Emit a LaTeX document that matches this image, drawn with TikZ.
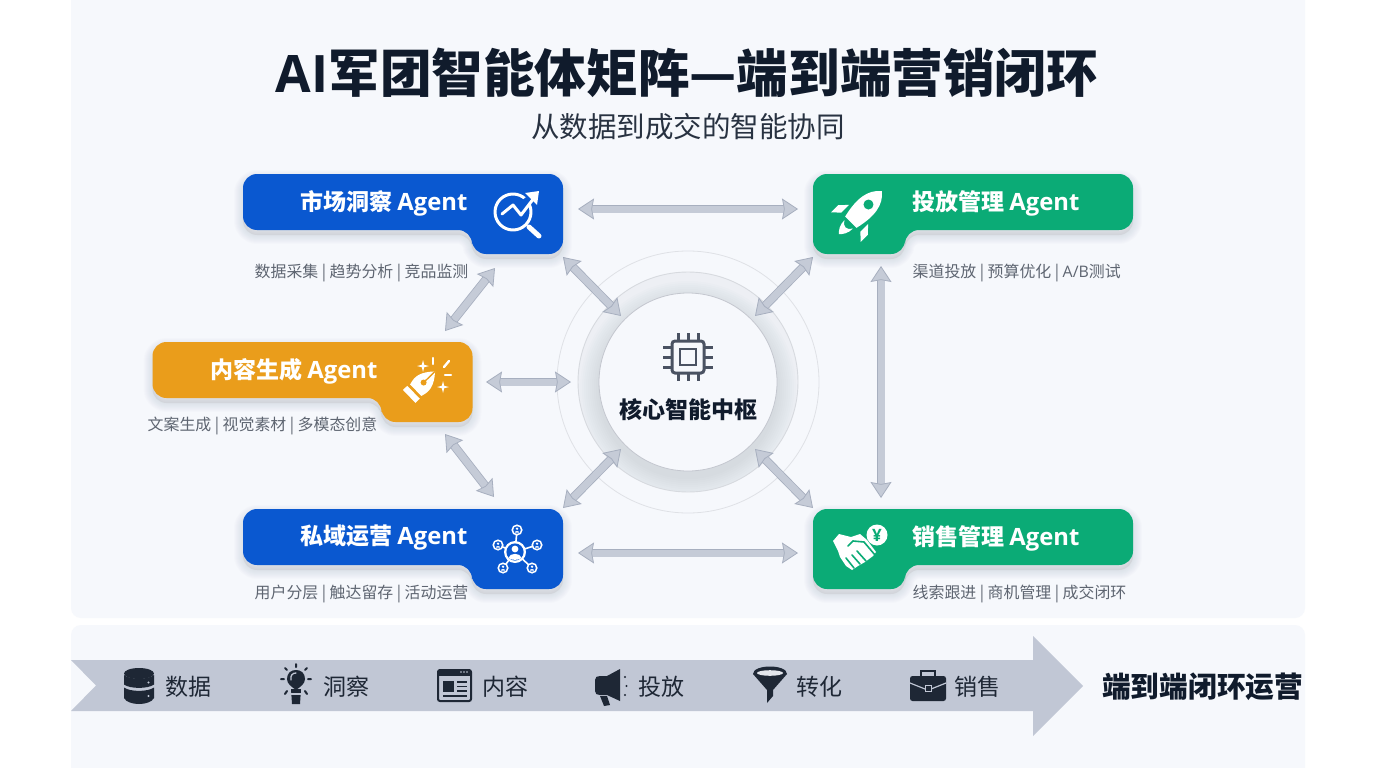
\documentclass[tikz,border=0pt]{standalone}
\usepackage{fontspec}
\setmainfont{Noto Sans CJK SC}
\newfontfamily\latinf{Open Sans}
\usetikzlibrary{arrows.meta,calc}
\definecolor{panel}{HTML}{F6F8FC}
\definecolor{ablue}{HTML}{0A58D0}
\definecolor{agreen}{HTML}{0BAB76}
\definecolor{aorange}{HTML}{EA9D1B}
\definecolor{inkd}{HTML}{101B2C}
\definecolor{graytxt}{HTML}{5E6571}
\definecolor{band}{HTML}{C1C7D5}
\definecolor{arrowf}{HTML}{C5CBD7}
\definecolor{arrowe}{HTML}{A7AFBF}
\definecolor{icond}{HTML}{1E2735}
\definecolor{chipc}{HTML}{4A5262}
\definecolor{shadowc}{HTML}{3A4660}
\newcommand{\fs}[1]{\fontsize{#1}{#1}\selectfont}
\newcommand{\shadowrep}[1]{\fill[shadowc,opacity=.09] #1; \foreach \i in {1,...,9}{\draw[shadowc,opacity=.012,line width=\i*2pt,line join=round] #1;}}
\newcommand{\cardR}[3]{\begin{scope}[shift={(#1)}]
 \begin{scope}[yshift=-5pt]\shadowrep{[rounded corners=14pt] (0,0)--(320,0)--(320,80)--(229,80)--(229,56)--(0,56)--cycle}\end{scope}
 \fill[#2,rounded corners=14pt] (0,0)--(320,0)--(320,80)--(229,80)--(229,56)--(0,56)--cycle;
 #3\end{scope}}
\newcommand{\cardL}[3]{\begin{scope}[shift={(#1)}]
 \begin{scope}[yshift=-5pt]\shadowrep{[rounded corners=14pt] (0,0)--(320,0)--(320,56)--(92,56)--(92,80)--(0,80)--cycle}\end{scope}
 \fill[#2,rounded corners=14pt] (0,0)--(320,0)--(320,56)--(92,56)--(92,80)--(0,80)--cycle;
 #3\end{scope}}
\newcommand{\agent}[1]{#1 {\latinf\bfseries\fs{23.8}Agent}}
\tikzset{
 x=1pt,y=-1pt,
 biarrow/.style={line width=.8pt,draw=arrowe,double=arrowf,double distance=7pt,
  {Stealth[length=16pt,width=21pt,inset=2pt,fill=arrowf,color=arrowe,line width=.8pt]}-{Stealth[length=16pt,width=21pt,inset=2pt,fill=arrowf,color=arrowe,line width=.8pt]}},
 cardtitle/.style={text=white,font=\fs{23}\bfseries,anchor=west,inner sep=0pt},
 desc/.style={text=graytxt,font=\fs{15.9},anchor=west,inner sep=0pt},
 steptext/.style={text=icond,font=\fs{23},anchor=west,inner sep=0pt},
 wl/.style={draw=white,line width=3pt,line cap=round,line join=round},
 dl/.style={draw=icond,line width=2pt,line cap=round,line join=round},
 chipl/.style={draw=chipc,line width=3pt},
}
\begin{document}
\begin{tikzpicture}
\useasboundingbox (0,0) rectangle (1376,768);
\fill[white] (0,0) rectangle (1376,768);
% panels
\fill[panel,rounded corners=10pt] (71,-20) rectangle (1305,618);
\fill[panel,rounded corners=10pt] (71,625) rectangle (1305,790);
% titles
\node[inner sep=0pt,text=inkd,font=\fs{51.6}\bfseries] (title) at (687,73) {{\latinf\bfseries AI}军团智能体矩阵—端到端营销闭环};
\node[inner sep=0pt,text=inkd!90,font=\fs{28.5}] (subtitle) at (688,127) {从数据到成交的智能协同};
% hub rings
\draw[draw=shadowc!16,line width=.8pt] (688,382) circle (131);
\begin{scope}
 \clip (688,382) circle (110);
 \fill[shadowc!5!panel] (688,382) circle (110);
 \foreach \i in {1,...,10}{\fill[shadowc,opacity=.011] (688,389) circle (88+\i*2);}
\end{scope}
\draw[shadowc!20,line width=.9pt] (688,382) circle (110);
\fill[color=panel,draw=shadowc!30,line width=.8pt] (688,382) circle (89);
% chip icon
\draw[chipl,rounded corners=3pt] (672,341) rectangle (704,373);
\draw[chipl,line width=2.8pt] (680,349) rectangle (696,365);
\foreach \d in {-10,0,10}{
 \draw[chipl] ($(688,341)+(\d,0)$) -- ++(0,-8);
 \draw[chipl] ($(688,373)+(\d,0)$) -- ++(0,8);
 \draw[chipl] ($(672,357)+(0,\d)$) -- ++(-9,0);
 \draw[chipl] ($(704,357)+(0,\d)$) -- ++(9,0);
}
\node[inner sep=0pt,text=inkd,font=\fs{23}\bfseries] (hub) at (688,409.5) {核心智能中枢};
% connector ends
\coordinate (mkR) at (578,209); \coordinate (adL) at (798,209);
\coordinate (adB) at (881,266); \coordinate (slT) at (881,498);
\coordinate (slL) at (798,553); \coordinate (prR) at (578,553);
\coordinate (mkB) at (495,268); \coordinate (ctT) at (445,331);
\coordinate (ctB) at (445,434); \coordinate (prT) at (494,497);
\coordinate (ctR) at (486,382); \coordinate (hbL) at (571,382);
\coordinate (mkD) at (563,257); \coordinate (hbA) at (621,316);
\coordinate (adD) at (813,257); \coordinate (hbB) at (755,316);
\coordinate (prD) at (563,508); \coordinate (hbC) at (621,449);
\coordinate (slD) at (813,508); \coordinate (hbE) at (755,449);
\draw[biarrow] (mkR) -- (adL);
\draw[biarrow] (adB) -- (slT);
\draw[biarrow] (slL) -- (prR);
\draw[biarrow] (mkB) -- (ctT);
\draw[biarrow] (ctB) -- (prT);
\draw[biarrow] (ctR) -- (hbL);
\draw[biarrow] (mkD) -- (hbA);
\draw[biarrow] (adD) -- (hbB);
\draw[biarrow] (prD) -- (hbC);
\draw[biarrow] (slD) -- (hbE);
% cards
\cardR{243,174}{ablue}{}
\cardL{813,174}{agreen}{}
\cardR{152.5,342}{aorange}{}
\cardR{243,509}{ablue}{}
\cardL{813,509}{agreen}{}
\node[cardtitle] (t1) at (300,203) {\agent{市场洞察}};
\node[cardtitle] (t2) at (912,203) {\agent{投放管理}};
\node[cardtitle] (t3) at (210,371) {\agent{内容生成}};
\node[cardtitle] (t4) at (300,538) {\agent{私域运营}};
\node[cardtitle] (t5) at (912,538) {\agent{销售管理}};
\node[desc] (d1) at (254.5,273) {数据采集 | 趋势分析 | 竞品监测};
\node[desc] (d2) at (912.5,273) {渠道投放 | 预算优化 | {\latinf A/B}测试};
\node[desc] (d3) at (147.5,426) {文案生成 | 视觉素材 | 多模态创意};
\node[desc] (d4) at (254.5,593.5) {用户分层 | 触达留存 | 活动运营};
\node[desc] (d5) at (912.5,593.5) {线索跟进 | 商机管理 | 成交闭环};
% magnifier icon
\draw[wl] (513,212) circle (18);
\draw[ablue,line width=8pt,line cap=round,line join=round] (524,204) -- (536,194);
\draw[wl,line width=5pt] (529,227) -- (539,236);
\draw[wl] (502,214) -- (513,205) -- (521,215) -- (534,198);
\fill[white] (539,191) -- (525,193) -- (537,205) -- cycle;
% rocket icon
\begin{scope}[shift={(860,213)},rotate=-45]
 \fill[white] (0,-31) .. controls (11,-22) and (13,-8) .. (8,13) -- (-8,13) .. controls (-13,-8) and (-11,-22) .. (0,-31) -- cycle;
 \fill[agreen] (0,-12) circle (5);
 \fill[white] (-13.5,2) -- (-13.5,13) -- (-21,20) -- (-21,10) -- cycle;
 \fill[white] (13.5,2) -- (13.5,13) -- (21,20) -- (21,10) -- cycle;
 \fill[white] (-6,16) .. controls (-6,23) and (-3,27) .. (0,30) .. controls (3,27) and (6,23) .. (6,16) .. controls (3,22) and (-3,22) .. (-6,16) -- cycle;
\end{scope}
% pen nib icon
\begin{scope}[shift={(420,386)},rotate=-46]
 \fill[white] (0,-21) .. controls (10,-10) and (11,-3) .. (8,6) -- (-8,6) .. controls (-11,-3) and (-10,-10) .. (0,-21) -- cycle;
 \fill[aorange] (0,-5) circle (3);
 \draw[aorange,line width=1.4pt] (0,-21) -- (0,-5);
 \fill[white] (-9,9) rectangle (9,15);
\end{scope}
\foreach \cx/\cy/\r in {423/366/6,443/387/6}{
 \fill[white] (\cx-\r,\cy) -- (\cx-1.2,\cy-1.2) -- (\cx,\cy-\r) -- (\cx+1.2,\cy-1.2) -- (\cx+\r,\cy) -- (\cx+1.2,\cy+1.2) -- (\cx,\cy+\r) -- (\cx-1.2,\cy+1.2) -- cycle;
}
\draw[wl,line width=2.4pt] (433,358) -- (433,364);
\draw[wl,line width=2.4pt] (449,361) -- (444,367);
\draw[wl,line width=2.4pt] (445,375) -- (451,375);
% network icon
\draw[white,line width=1.6pt] (515,552) -- (517,530) (515,552) -- (498,545) (515,552) -- (537,545) (515,552) -- (503,568) (515,552) -- (532,568);
\foreach \cx/\cy in {517/530,498/545,537/545,503/568,532/568}{
 \fill[white] (\cx,\cy) circle (5.6);
 \fill[ablue] (\cx,\cy) circle (3.8);
 \fill[white] (\cx,\cy-1.3) circle (1.3);
 \fill[white] (\cx-2.3,\cy+2.6) .. controls (\cx-2,\cy+.6) and (\cx+2,\cy+.6) .. (\cx+2.3,\cy+2.6) -- cycle;
}
\fill[white] (515,552) circle (11);
\fill[ablue] (515,552) circle (8.6);
\fill[white] (515,549) circle (3.4);
\fill[white] (508.5,558) .. controls (509,552.5) and (521,552.5) .. (521.5,558) .. controls (518,560.5) and (512,560.5) .. (508.5,558) -- cycle;
% handshake icon
\fill[white] (833,541) -- (839,534) -- (851,537) -- (860,534) -- (867,540) -- (876,552) -- (873,556) -- (865,562) -- (858,566) -- (852,570) -- (846,566) -- (840,557) -- (838,551) -- cycle;
\draw[agreen,line width=1.6pt,line cap=round] (848,546) -- (853,541) -- (864,542) -- (875,555)
 (857,551) -- (866,561) (852,555) -- (860,564) (846,558) -- (854,568);
\fill[white] (877,535) circle (10.5);
\node[inner sep=0pt,text=agreen,font=\latinf\fs{17}\bfseries] (yen) at (877,535) {¥};
% flow band
\fill[band] (71,660) -- (1033,660) -- (1033,636) -- (1083,686) -- (1033,736) -- (1033,711) -- (71,711) -- (96,685.5) -- cycle;
% database
\fill[icond] (139,673.5) ellipse (15 and 5.5);
\fill[icond] (124,687.5) .. controls (130,692) and (148,692) .. (154,687.5) -- (154,698) .. controls (150,706) and (128,706) .. (124,698) -- cycle;
\fill[icond] (124,675) .. controls (130,680) and (148,680) .. (154,675) -- (154,684.5) .. controls (148,689) and (130,689) .. (124,684.5) -- cycle;
\fill[band] (148.5,682.5) circle (1.2) (148.5,696) circle (1.2);
% bulb
\fill[icond] (296,690) .. controls (292,687) and (287,684) .. (287,679) .. controls (287,673) and (291,670) .. (296,670) .. controls (301,670) and (305,673) .. (305,679) .. controls (305,684) and (300,687) .. (296,690) -- cycle;
\fill[icond] (291,689) -- (301,689) -- (300,704) -- (292,704) -- cycle;
\fill[band] (291,693) rectangle (301,694.5);
\draw[band,line width=1.3pt,line cap=round] (291,680) .. controls (290,675) and (293,673) .. (296,673);
\draw[dl] (296,664) -- (296,667) (281,679) -- (284,679) (311,679) -- (308,679) (285,668) -- (287,670) (307,668) -- (305,670) (285,694) -- (287,691) (307,694) -- (305,691);
% window
\draw[icond,line width=2pt,rounded corners=2pt] (438,670) rectangle (471,701);
\fill[icond] (438,670) rectangle (471,676);
\fill[band] (464,672) circle (.8) (467,672) circle (.8) (461,672) circle (.8);
\fill[icond] (443,681) rectangle (454,692);
\draw[icond,line width=1.5pt] (457,682) -- (467,682) (457,686.5) -- (467,686.5) (457,691) -- (467,691) (443,696) -- (467,696);
% megaphone
\fill[icond] (595,680) .. controls (595,677) and (597,676) .. (600,676) -- (607,676) -- (620,669) -- (620,701) -- (607,695) -- (600,695) .. controls (597,695) and (595,694) .. (595,691) -- cycle;
\fill[icond] (600,696) -- (607,696) -- (610,705) -- (604,706) -- cycle;
\fill[icond] (625,677) circle (1.2) (626.5,686) circle (1.2) (625,695) circle (1.2);
% funnel
\fill[icond] (753,674) .. controls (753,664) and (787,664) .. (787,674) -- (773,690) -- (773,696) -- (767,703) -- (767,690) -- cycle;
\fill[band!45!white] (770,673) ellipse (13 and 2.8);
% briefcase
\draw[icond,line width=2pt] (921,676) -- (921,671) -- (935,671) -- (935,676);
\fill[icond,rounded corners=2.5pt] (910,676) rectangle (946,701);
\draw[band,line width=1.2pt] (910,683) -- (925,689) (946,683) -- (931,689);
\draw[band,line width=1pt,fill=icond] (925,685.5) rectangle (931,691);
% flow labels
\node[steptext] (s1) at (165,687) {数据};
\node[steptext] (s2) at (323,687) {洞察};
\node[steptext] (s3) at (482,687) {内容};
\node[steptext] (s4) at (638,687) {投放};
\node[steptext] (s5) at (796,687) {转化};
\node[steptext] (s6) at (954,687) {销售};
\node[inner sep=0pt,text=inkd,font=\fs{28.7}\bfseries,anchor=west] (flowend) at (1102,686.5) {端到端闭环运营};
\end{tikzpicture}
\end{document}
